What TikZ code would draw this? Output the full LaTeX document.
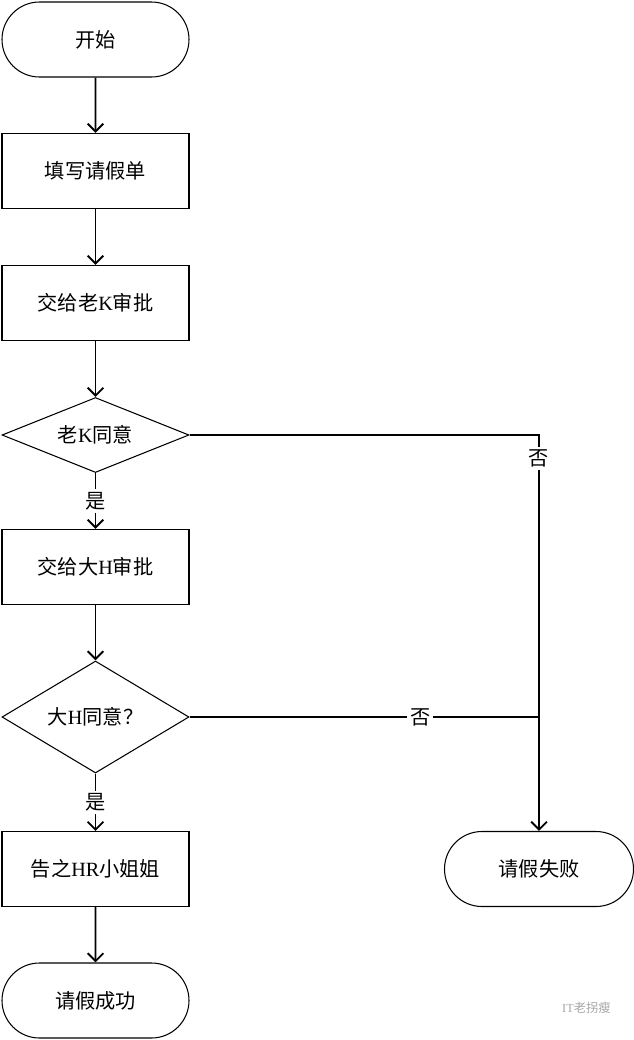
\documentclass[tikz,border=0pt]{standalone}
\usepackage{fontspec}
\setmainfont{Liberation Serif}
\newfontfamily\cjk{Noto Sans CJK SC}
\usetikzlibrary{shapes, arrows.meta, positioning, calc}

\begin{document}
\begin{tikzpicture}[
  term/.style={rounded rectangle, draw, line width=0.6pt, minimum width=3.74cm, minimum height=1.5cm, align=center, font=\fontsize{11.5}{14}\selectfont, inner sep=0pt},
  proc/.style={rectangle, draw, line width=0.6pt, minimum width=3.74cm, minimum height=1.5cm, align=center, font=\fontsize{11.5}{14}\selectfont, inner sep=0pt},
  decide/.style={diamond, draw, line width=0.6pt, aspect=2.5, minimum width=3.74cm, minimum height=1.5cm, align=center, font=\fontsize{11.5}{14}\selectfont, inner sep=0pt},
  flow/.style={line width=1.1pt, -{Straight Barb[length=4.5pt, width=9pt, line width=1.1pt]}},
  tag/.style={fill=white, inner sep=1.5pt, font=\fontsize{11.5}{14}\selectfont}
]
  \useasboundingbox (0,0) rectangle (12.68,-20.8);

  % Main column
  \node[term] (start) at (1.91, -0.79) {\cjk 开始};
  \node[proc] (fillform) at (1.91, -3.42) {\cjk 填写请假单};
  \node[proc] (askk) at (1.91, -6.06) {{\cjk 交给老}K{\cjk 审批}};
  \node[decide] (okk) at (1.91, -8.70) {{\cjk 老}K{\cjk 同意}};
  \node[proc] (askh) at (1.91, -11.34) {{\cjk 交给大}H{\cjk 审批}};
  \node[decide, minimum height=2.24cm] (okh) at (1.91, -14.34) {{\cjk 大}H{\cjk 同意？}};
  \node[proc] (tellhr) at (1.91, -17.38) {{\cjk 告之}HR{\cjk 小姐姐}};
  \node[term] (success) at (1.91, -20.01) {\cjk 请假成功};

  % Refused
  \node[term, minimum width=3.78cm] (fail) at (10.78, -17.38) {\cjk 请假失败};
  \coordinate (join) at (okh.east -| fail.north);

  % Connectors
  \draw[flow] (start) -- (fillform);
  \draw[flow] (fillform) -- (askk);
  \draw[flow] (askk) -- (okk);
  \draw[flow] (okk) -- node[tag] {\cjk 是} (askh);
  \draw[flow] (askh) -- (okh);
  \draw[flow] (okh) -- node[tag] {\cjk 是} (tellhr);
  \draw[flow] (tellhr) -- (success);
  \draw[flow] (okk.east) -| node[tag, pos=0.53] {\cjk 否} (fail.north);
  \draw[line width=1.1pt] (okh.east) -- node[tag, pos=0.66] {\cjk 否} (join);

  % Watermark
  \node[text=black!35, font=\fontsize{7}{8}\selectfont, anchor=west] (mark) at (11.12, -20.16) {IT{\cjk 老拐瘦}};
\end{tikzpicture}
\end{document}
